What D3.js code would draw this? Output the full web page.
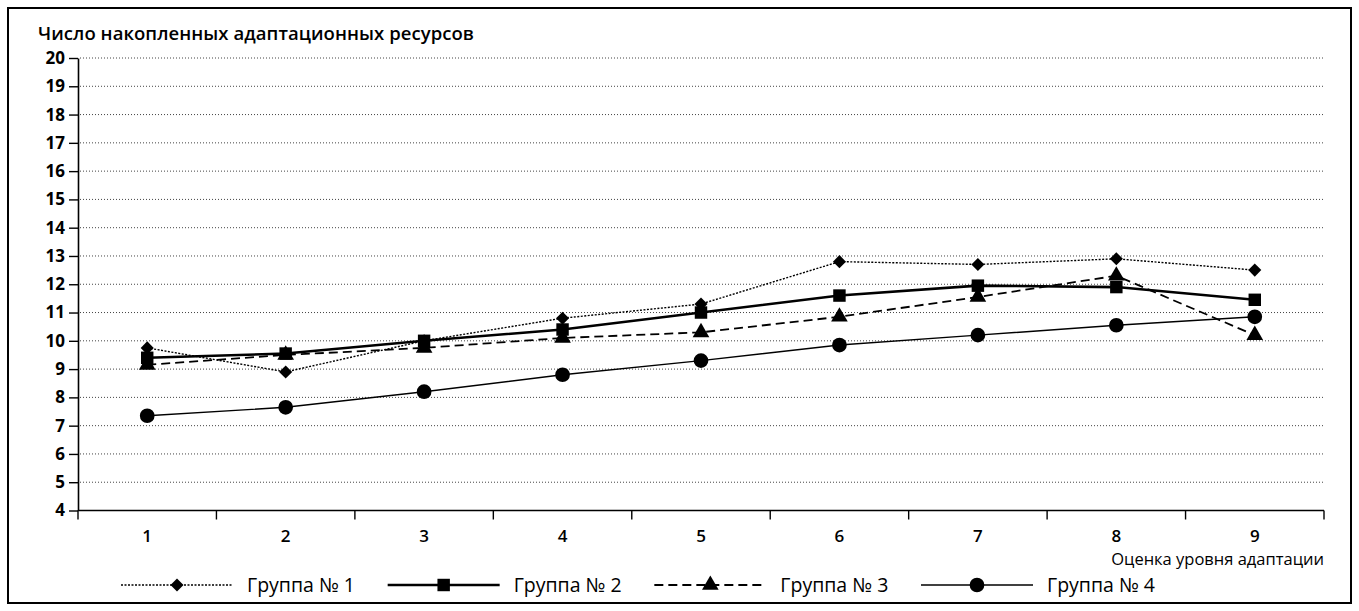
<!DOCTYPE html>
<html>
<head>
<meta charset="utf-8">
<script src="https://cdn.jsdelivr.net/npm/d3@7"></script>
<style>
  body { margin: 0; background: #fff; }
  text { font-family: "Open Sans", "DejaVu Sans", sans-serif; fill: #000; }
</style>
</head>
<body>
<svg id="chart" width="1359" height="611"></svg>
<script>
const categories = ["1", "2", "3", "4", "5", "6", "7", "8", "9"];
const group1 = [9.75, 8.9, 10.0, 10.8, 11.3, 12.8, 12.7, 12.9, 12.5];
const group2 = [9.4, 9.55, 10.0, 10.4, 11.0, 11.6, 11.95, 11.9, 11.45];
const group3 = [9.15, 9.5, 9.75, 10.1, 10.3, 10.85, 11.55, 12.3, 10.2];
const group4 = [7.35, 7.65, 8.2, 8.8, 9.3, 9.85, 10.2, 10.55, 10.85];
const seriesNames = ["Группа № 1", "Группа № 2", "Группа № 3", "Группа № 4"];
const yTicks = d3.range(4, 21);

const width = 1359, height = 611;
const margin = {left: 78, right: 35, top: 58, bottom: 100};

const series = [
  {name: seriesNames[0], values: group1, marker: d3.symbolSquare, rot: 45, size: 85, width: 1.4, dash: "2,1.5"},
  {name: seriesNames[1], values: group2, marker: d3.symbolSquare, rot: 0, size: 155, width: 2.6, dash: null},
  {name: seriesNames[2], values: group3, marker: d3.symbolTriangle, rot: 0, size: 120, width: 1.8, dash: "9,5"},
  {name: seriesNames[3], values: group4, marker: d3.symbolCircle, rot: 0, size: 170, width: 1.4, dash: null}
];

const svg = d3.select("#chart");

// frame
svg.append("rect")
  .attr("x", 8).attr("y", 8)
  .attr("width", width - 16).attr("height", height - 16)
  .attr("fill", "none")
  .attr("stroke", "#000")
  .attr("stroke-width", 2);

const x = d3.scaleBand()
  .domain(categories)
  .range([margin.left, width - margin.right]);

const y = d3.scaleLinear()
  .domain([4, 20])
  .range([height - margin.bottom - 0.5, margin.top]);

// gridlines
svg.append("g")
  .selectAll("line")
  .data(yTicks.filter(d => d > 4))
  .join("line")
    .attr("x1", margin.left + 2)
    .attr("x2", width - margin.right)
    .attr("y1", d => y(d))
    .attr("y2", d => y(d))
    .attr("stroke", "#444")
    .attr("stroke-width", 1)
    .attr("stroke-dasharray", "1,2");

// y axis
const yAxis = svg.append("g")
  .attr("transform", `translate(${margin.left},0)`)
  .call(d3.axisLeft(y).tickValues(yTicks).tickSize(9).tickSizeOuter(0).tickPadding(4));
yAxis.select(".domain").attr("stroke-width", 1.6);
yAxis.selectAll(".tick line").attr("stroke-width", 1.4);
yAxis.selectAll("text")
  .attr("font-size", 17)
  .attr("font-weight", "bold")
  .attr("font-family", "\"Open Sans\", sans-serif");

// x axis: ticks at band boundaries
const xAxisG = svg.append("g")
  .attr("transform", `translate(0,${y(4)})`);
xAxisG.append("line")
  .attr("x1", margin.left).attr("x2", width - margin.right)
  .attr("stroke", "#000").attr("stroke-width", 1.6);
xAxisG.selectAll(".bound")
  .data(categories.concat(["end"]))
  .join("line")
    .attr("class", "bound")
    .attr("x1", (d, i) => i < categories.length ? x(d) : x(categories[categories.length - 1]) + x.bandwidth())
    .attr("x2", (d, i) => i < categories.length ? x(d) : x(categories[categories.length - 1]) + x.bandwidth())
    .attr("y1", 0).attr("y2", 9)
    .attr("stroke", "#000").attr("stroke-width", 1.4);
xAxisG.selectAll(".lbl")
  .data(categories)
  .join("text")
    .attr("class", "lbl")
    .attr("x", d => x(d) + x.bandwidth() / 2)
    .attr("y", 31)
    .attr("text-anchor", "middle")
    .attr("font-size", 17)
    .attr("font-weight", 600)
    .text(d => d);

// axis titles
svg.append("text")
  .attr("x", 38).attr("y", 40)
  .attr("font-size", 18.5)
  .attr("font-weight", 600)
  .attr("textLength", 436)
  .text("Число накопленных адаптационных ресурсов");

svg.append("text")
  .attr("x", width - margin.right).attr("y", 565)
  .attr("text-anchor", "end")
  .attr("font-size", 16.5)
  .text("Оценка уровня адаптации");

// lines and markers
const cx = (d, i) => x(categories[i]) + x.bandwidth() / 2;
const line = d3.line().x(cx).y(d => y(d));

series.forEach(s => {
  const g = svg.append("g");
  g.append("path")
    .datum(s.values)
    .attr("d", line)
    .attr("fill", "none")
    .attr("stroke", "#000")
    .attr("stroke-width", s.width)
    .attr("stroke-dasharray", s.dash);
  g.selectAll("path.mk")
    .data(s.values)
    .join("path")
      .attr("class", "mk")
      .attr("transform", (d, i) => `translate(${cx(d, i)},${y(d)}) rotate(${s.rot})`)
      .attr("d", d3.symbol().type(s.marker).size(s.size))
      .attr("fill", "#000");
});

// legend
const legendX = d3.scalePoint()
  .domain(seriesNames)
  .range([121, 921]);
const legend = svg.append("g").attr("transform", "translate(0,585)");
series.forEach(s => {
  const lx = legendX(s.name);
  const g = legend.append("g").attr("transform", `translate(${lx},0)`);
  g.append("line")
    .attr("x1", 0).attr("x2", 112)
    .attr("stroke", "#000")
    .attr("stroke-width", s.width)
    .attr("stroke-dasharray", s.dash);
  g.append("path")
    .attr("transform", `translate(56,0) rotate(${s.rot})`)
    .attr("d", d3.symbol().type(s.marker).size(s.size))
    .attr("fill", "#000");
  g.append("text")
    .attr("x", 126).attr("y", 7)
    .attr("font-size", 19.5)
    .text(s.name);
});
</script>
</body>
</html>
